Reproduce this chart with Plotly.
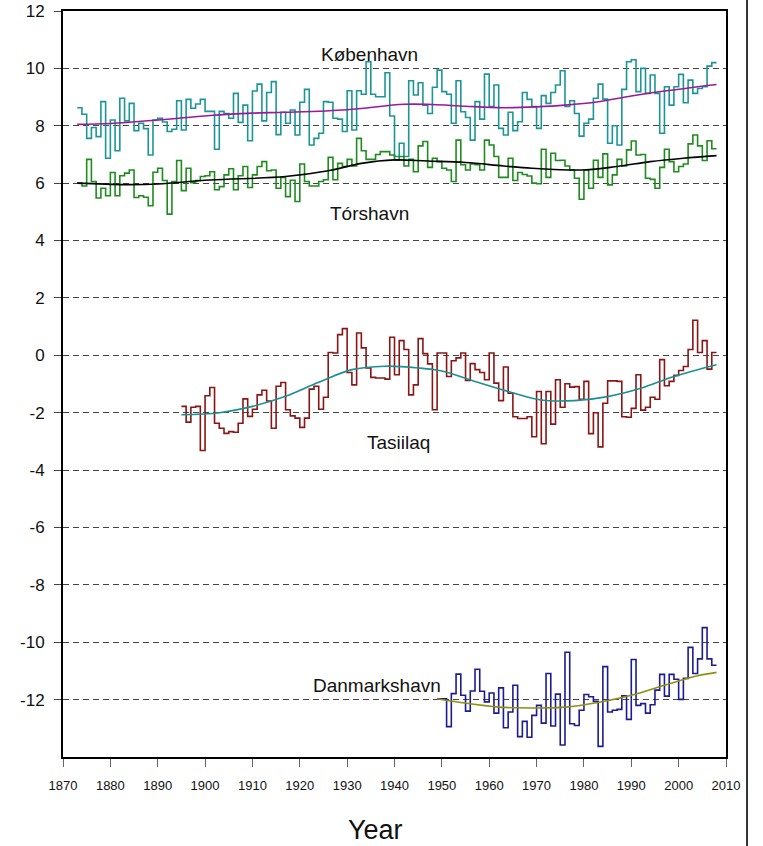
import plotly.graph_objects as go

# ---------------- data (annual means, degC) ----------------
kbh_start = 1873
kbh = [8.63, 8.40, 7.56, 7.94, 7.62, 8.84, 6.87, 8.20, 7.13, 8.96,
       8.17, 8.78, 7.83, 8.09, 7.90, 6.98, 8.20, 8.26, 8.13, 7.80,
       7.88, 8.87, 7.85, 8.92, 8.61, 8.76, 8.92, 8.50, 8.50, 7.18,
       8.50, 8.43, 8.26, 9.13, 8.12, 8.72, 7.48, 9.21, 9.45, 8.17,
       9.16, 9.54, 7.69, 8.47, 8.09, 8.55, 7.68, 8.82, 9.27, 7.33,
       7.56, 7.74, 8.84, 8.82, 8.26, 8.23, 7.80, 9.22, 7.85, 9.22,
       9.10, 10.23, 9.10, 9.01, 9.01, 9.85, 8.34, 6.93, 7.39, 6.93,
       9.57, 9.07, 9.50, 8.72, 8.43, 9.34, 9.94, 9.19, 9.10, 8.09,
       9.57, 8.49, 8.29, 7.50, 8.84, 8.23, 9.80, 8.67, 9.42, 7.91,
       7.68, 8.47, 7.83, 8.14, 9.16, 8.92, 8.67, 7.91, 9.05, 8.78,
       9.16, 9.42, 9.92, 8.67, 8.87, 8.43, 7.64, 8.09, 8.23, 8.96,
       9.45, 8.93, 7.39, 8.00, 7.33, 9.27, 10.23, 10.30, 9.19, 10.00,
       9.13, 9.77, 9.13, 7.74, 9.36, 8.72, 9.36, 9.79, 8.80, 9.59,
       9.13, 9.30, 9.36, 10.08, 10.20]

tor_start = 1873
tor = [6.00, 5.90, 6.83, 6.06, 5.48, 5.82, 5.56, 6.37, 5.56, 6.26,
       6.35, 6.46, 5.50, 5.56, 5.51, 5.21, 6.38, 6.52, 6.09, 4.92,
       6.06, 6.79, 5.74, 6.52, 6.02, 6.09, 6.23, 6.26, 6.40, 5.77,
       5.88, 6.29, 6.50, 5.77, 6.26, 6.58, 5.85, 6.29, 6.58, 6.75,
       6.43, 6.46, 5.82, 6.20, 5.53, 6.10, 5.36, 6.67, 6.06, 5.90,
       5.90, 6.06, 6.12, 6.90, 6.12, 6.69, 6.58, 6.83, 6.60, 7.56,
       7.13, 6.83, 6.83, 7.00, 7.10, 7.10, 6.98, 6.80, 6.93, 6.60,
       6.83, 6.40, 7.30, 7.45, 6.55, 6.87, 6.75, 6.52, 6.46, 6.06,
       7.50, 6.64, 6.46, 6.67, 6.64, 6.46, 7.50, 7.33, 6.93, 6.20,
       6.20, 6.87, 6.09, 6.37, 6.30, 6.25, 6.00, 5.98, 7.18, 6.20,
       7.04, 6.79, 6.80, 6.60, 6.46, 6.17, 5.44, 6.46, 5.82, 6.80,
       6.20, 7.02, 5.94, 6.29, 6.83, 6.60, 7.16, 7.47, 6.98, 7.00,
       6.17, 6.13, 5.82, 6.55, 7.18, 6.75, 6.40, 6.58, 6.67, 7.37,
       7.68, 7.30, 6.79, 7.48, 7.20]

tas_start = 1895
tas = [-1.78, -2.33, -1.81, -1.78, -3.32, -1.41, -1.12, -2.37, -2.54, -2.72,
       -2.66, -2.68, -2.37, -1.52, -2.13, -1.88, -1.38, -1.22, -1.59, -2.54,
       -1.08, -0.95, -1.90, -2.11, -2.19, -2.51, -2.19, -1.18, -1.08, -1.88,
       -1.46, 0.10, 0.08, 0.72, 0.93, -0.60, -1.03, 0.78, 0.26, -0.44,
       -0.77, -0.79, -0.79, -0.83, 0.63, -0.68, 0.51, 0.20, -1.38, -1.03,
       0.58, 0.06, -0.30, -1.90, 0.08, 0.08, -0.74, -0.19, -0.09, 0.08,
       -0.88, -0.29, -0.50, -0.60, -0.85, 0.08, -0.97, -1.58, -0.41, -1.32,
       -2.14, -2.20, -2.20, -2.14, -2.84, -1.26, -3.08, -1.26, -2.40, -0.85,
       -1.81, -0.99, -1.11, -1.09, -1.53, -0.91, -2.73, -2.00, -3.19, -1.67,
       -0.89, -0.89, -0.91, -2.14, -2.16, -1.85, -0.68, -1.91, -1.81, -1.46,
       -1.53, -0.15, -1.06, -0.91, -0.70, -0.53, -0.39, 0.20, 1.22, 0.10,
       0.51, -0.48, 0.10]

dmh_start = 1949
dmh = [-11.97, -11.97, -12.94, -11.79, -11.11, -11.85, -12.40, -11.70, -10.94, -11.71,
       -12.08, -11.77, -12.47, -11.59, -12.98, -12.43, -11.50, -13.29, -12.76, -13.31,
       -12.55, -12.20, -12.82, -11.09, -12.92, -11.81, -13.58, -10.35, -12.84, -12.90,
       -12.37, -11.82, -11.90, -12.06, -13.63, -10.85, -12.43, -12.37, -12.34, -11.87,
       -12.69, -10.60, -12.20, -12.14, -12.47, -12.18, -11.67, -11.12, -11.88, -11.12,
       -11.29, -11.99, -11.26, -10.18, -11.09, -10.58, -9.49, -10.58, -10.80]

# smoothed curves (read at selected years)
kbh_s_years = [1873, 1880, 1890, 1901, 1910, 1917, 1930, 1942, 1948, 1955, 1963, 1970, 1976, 1983, 1990, 1997, 2008]
kbh_s_vals = [8.05, 8.08, 8.20, 8.36, 8.44, 8.47, 8.56, 8.75, 8.74, 8.68, 8.63, 8.66, 8.72, 8.84, 9.04, 9.21, 9.44]

tor_s_years = [1873, 1883, 1890, 1901, 1917, 1926, 1933, 1940, 1947, 1955, 1963, 1969, 1980, 1987, 1994, 2001, 2008]
tor_s_vals = [6.00, 5.95, 5.97, 6.11, 6.23, 6.43, 6.69, 6.81, 6.77, 6.72, 6.60, 6.52, 6.46, 6.58, 6.75, 6.87, 6.96]

tas_s_years = [1895, 1903, 1910, 1917, 1924, 1931, 1938, 1945, 1950, 1957, 1964, 1971, 1978, 1985, 1992, 1999, 2008]
tas_s_vals = [-2.07, -2.00, -1.78, -1.43, -0.94, -0.50, -0.38, -0.44, -0.55, -0.91, -1.26, -1.56, -1.58, -1.44, -1.15, -0.74, -0.33]

dmh_s_years = [1949, 1954, 1962, 1969, 1976, 1983, 1990, 1997, 2004, 2008]
dmh_s_vals = [-11.97, -12.10, -12.26, -12.29, -12.26, -12.10, -11.85, -11.50, -11.17, -11.05]

station_names = ["København", "Tórshavn", "Tasiilaq", "Danmarkshavn"]
label_pos_x = [1934.8, 1934.8, 1940.8, 1936.3]
label_pos_y = [10.47, 4.95, -3.03, -11.52]

x_ticks = list(range(1870, 2011, 10))
y_ticks = list(range(-12, 13, 2))

# ---------------- figure ----------------
FONT = "Liberation Sans, Arial, sans-serif"


def step_xy(start, vals):
    xs = [start + i for i in range(len(vals))] + [start + len(vals)]
    ys = list(vals) + [vals[-1]]
    return xs, ys


fig = go.Figure()

series = [
    (kbh_start, kbh, "#1b9696", kbh_s_years, kbh_s_vals, "#9a1a9a"),
    (tor_start, tor, "#1e8c1e", tor_s_years, tor_s_vals, "#000000"),
    (tas_start, tas, "#8b1414", tas_s_years, tas_s_vals, "#1a9090"),
    (dmh_start, dmh, "#1c1c92", dmh_s_years, dmh_s_vals, "#8f8f10"),
]

for start, vals, col, sy, sv, scol in series:
    xs, ys = step_xy(start, vals)
    fig.add_trace(go.Scatter(x=xs, y=ys, mode="lines",
                             line=dict(color=col, width=1.6, shape="hv"),
                             hoverinfo="skip", showlegend=False))
    fig.add_trace(go.Scatter(x=sy, y=sv, mode="lines",
                             line=dict(color=scol, width=1.6, shape="spline", smoothing=1.0),
                             hoverinfo="skip", showlegend=False))

for name, lx, ly in zip(station_names, label_pos_x, label_pos_y):
    fig.add_annotation(x=lx, y=ly, text=name, showarrow=False,
                       font=dict(family=FONT, size=19, color="#111111"),
                       xanchor="center", yanchor="middle")

fig.add_annotation(xref="paper", yref="paper", x=0.472, y=-0.098, text="Year",
                   showarrow=False, font=dict(family=FONT, size=27, color="#111111"),
                   xanchor="center", yanchor="middle")

# outer page border line on the right
fig.add_shape(type="line", xref="paper", yref="paper", x0=1.0317, x1=1.0317,
              y0=-0.2, y1=1.1, line=dict(color="#333333", width=2))

fig.update_xaxes(range=[1870, 2010], tickvals=x_ticks, ticktext=[str(t) for t in x_ticks],
                 ticks="outside", ticklen=8, tickwidth=1, tickcolor="#666666",
                 showline=True, linecolor="#000000", linewidth=2, mirror=True,
                 showgrid=False, zeroline=False, automargin=False,
                 ticklabelstandoff=7, ticklabeloverflow="allow",
                 tickfont=dict(family=FONT, size=13, color="#111111"))
fig.update_yaxes(range=[-14, 12], tickvals=y_ticks, ticktext=[str(t) for t in y_ticks],
                 ticks="outside", ticklen=7, tickwidth=1, tickcolor="#444444",
                 showline=True, linecolor="#000000", linewidth=2, mirror=True,
                 showgrid=True, gridcolor="#444444", gridwidth=1, griddash="6px,4px",
                 zeroline=False, automargin=False,
                 ticklabelstandoff=6, ticklabeloverflow="allow",
                 tickfont=dict(family=FONT, size=17, color="#111111"))

fig.update_layout(template="none", width=763, height=846,
                  plot_bgcolor="white", paper_bgcolor="white",
                  margin=dict(l=63, r=37, t=11, b=89, pad=0), showlegend=False)

# remove the default page margin so the figure fills the window exactly
fig.write_html("out.html",
               config={"displayModeBar": False, "staticPlot": True},
               post_script="document.body.style.margin='0';document.body.style.overflow='hidden';")
